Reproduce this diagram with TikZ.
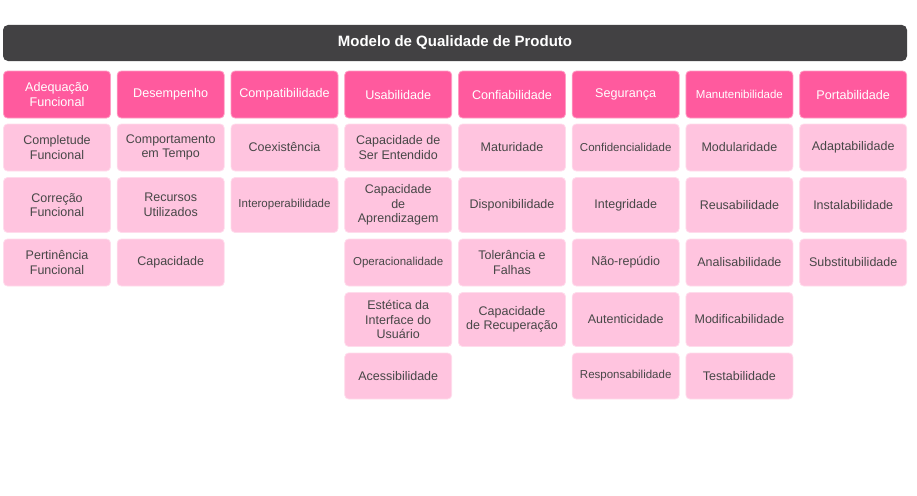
\documentclass[tikz,border=0pt]{standalone}
\usepackage{fontspec}
\setmainfont{Liberation Sans}
\definecolor{titlebg}{HTML}{424143}
\definecolor{hdrpink}{HTML}{FF5A9E}
\definecolor{hdredge}{HTML}{FF9DC4}
\definecolor{subpink}{HTML}{FFC4DF}
\definecolor{subedge}{HTML}{FFDCEC}
\definecolor{subtext}{HTML}{474747}
\tikzset{
  titlebox/.style={fill=titlebg, rounded corners=5pt, minimum width=904pt, minimum height=36pt, inner sep=0pt,
    text=white, font=\fontsize{15}{17}\selectfont\bfseries},
  hdrbox/.style={fill=hdrpink, draw=hdredge, line width=0.8pt, rounded corners=4pt, minimum width=107pt,
    minimum height=47pt, inner sep=0pt, text=white, align=center, font=\fontsize{12.6}{15}\selectfont},
  subbox/.style={fill=subpink, draw=subedge, line width=0.8pt, rounded corners=4pt, minimum width=107pt,
    inner sep=0pt, text=subtext, align=center, font=\fontsize{12.5}{14.5}\selectfont},
  small/.style={font=\fontsize{11.5}{14}\selectfont},
  rA/.style={subbox, minimum height=47pt},
  rB/.style={subbox, minimum height=55pt},
  rC/.style={subbox, minimum height=47pt},
  rD/.style={subbox, minimum height=54pt},
  rE/.style={subbox, minimum height=46pt},
}
\begin{document}
\begin{tikzpicture}[x=1pt,y=-1pt]
\useasboundingbox (0,0) rectangle (917,495);
\node[titlebox] (title) at (455,43) {Modelo de Qualidade de Produto};
% headers
\node[hdrbox] (h1) at (57,94.5) {Adequação\\Funcional};
\node[hdrbox] (h2) at (170.7,94.5) {Desempenho};
\node[hdrbox] (h3) at (284.5,94.5) {Compatibilidade};
\node[hdrbox] (h4) at (398.2,94.5) {Usabilidade};
\node[hdrbox] (h5) at (512,94.5) {Confiabilidade};
\node[hdrbox] (h6) at (625.7,94.5) {Segurança};
\node[hdrbox, small] (h7) at (739.4,94.5) {Manutenibilidade};
\node[hdrbox] (h8) at (853.2,94.5) {Portabilidade};
% column 1
\node[rA] (a1) at (57,147.5) {Completude\\Funcional};
\node[rB] (a2) at (57,205) {Correção\\Funcional};
\node[rC] (a3) at (57,262.5) {Pertinência\\Funcional};
% column 2
\node[rA] (b1) at (170.7,147.5) {Comportamento\\em Tempo};
\node[rB] (b2) at (170.7,205) {Recursos\\Utilizados};
\node[rC] (b3) at (170.7,262.5) {Capacidade};
% column 3
\node[rA] (c1) at (284.5,147.5) {Coexistência};
\node[rB, small] (c2) at (284.5,205) {Interoperabilidade};
% column 4
\node[rA] (d1) at (398.2,147.5) {Capacidade de\\Ser Entendido};
\node[rB] (d2) at (398.2,205) {Capacidade\\de\\Aprendizagem};
\node[rC, small] (d3) at (398.2,262.5) {Operacionalidade};
\node[rD] (d4) at (398.2,319.5) {Estética da\\Interface do\\Usuário};
\node[rE] (d5) at (398.2,376) {Acessibilidade};
% column 5
\node[rA] (e1) at (512,147.5) {Maturidade};
\node[rB] (e2) at (512,205) {Disponibilidade};
\node[rC] (e3) at (512,262.5) {Tolerância e\\Falhas};
\node[rD] (e4) at (512,319.5) {Capacidade\\de Recuperação};
% column 6
\node[rA, small] (f1) at (625.7,147.5) {Confidencialidade};
\node[rB] (f2) at (625.7,205) {Integridade};
\node[rC] (f3) at (625.7,262.5) {Não-repúdio};
\node[rD] (f4) at (625.7,319.5) {Autenticidade};
\node[rE, small] (f5) at (625.7,376) {Responsabilidade};
% column 7
\node[rA] (g1) at (739.4,147.5) {Modularidade};
\node[rB] (g2) at (739.4,205) {Reusabilidade};
\node[rC] (g3) at (739.4,262.5) {Analisabilidade};
\node[rD] (g4) at (739.4,319.5) {Modificabilidade};
\node[rE] (g5) at (739.4,376) {Testabilidade};
% column 8
\node[rA] (k1) at (853.2,147.5) {Adaptabilidade};
\node[rB] (k2) at (853.2,205) {Instalabilidade};
\node[rC] (k3) at (853.2,262.5) {Substitubilidade};
\end{tikzpicture}
\end{document}
